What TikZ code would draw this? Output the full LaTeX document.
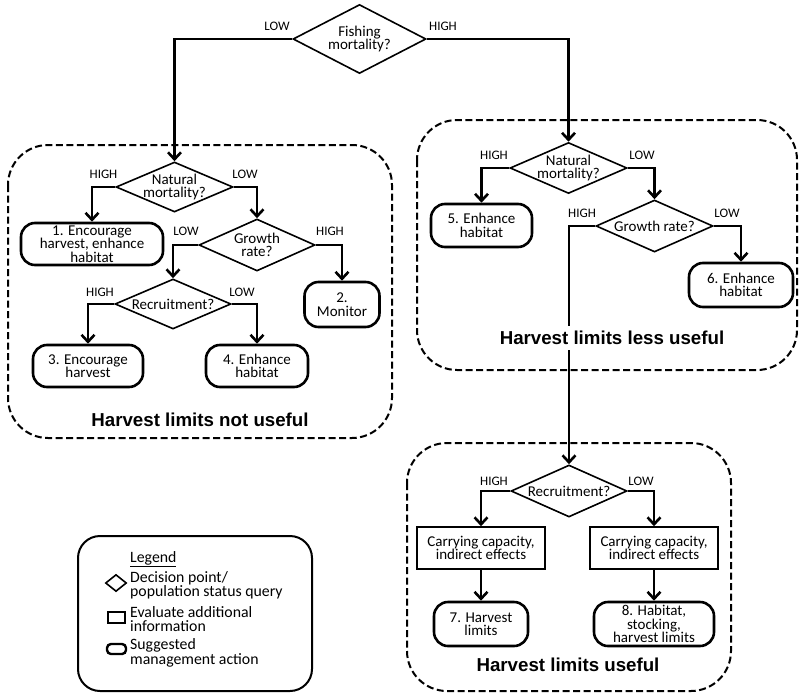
\documentclass[tikz,border=0pt]{standalone}
\usepackage{fontspec}
\setmainfont{Carlito}
\newfontfamily\headfont{Liberation Sans}
\usetikzlibrary{shapes.geometric,arrows.meta}

\tikzset{
  query/.style={diamond, draw, line width=1.6pt, inner sep=0pt},
  qtext/.style={inner sep=0pt, align=center, font=\fontsize{15}{13.5}\selectfont},
  action/.style={draw, line width=2.6pt, rounded corners=14pt, inner sep=0pt,
    align=center, font=\fontsize{15}{13.5}\selectfont},
  infobox/.style={draw, line width=1.6pt, inner sep=0pt, align=center,
    font=\fontsize{15}{13.5}\selectfont},
  flow/.style={line width=2.6pt, -{Straight Barb[length=7pt,width=13pt]}},
  branch/.style={inner sep=0pt, font=\fontsize{13}{14}\selectfont},
  zone/.style={draw, line width=2pt, dash pattern=on 7pt off 3.5pt, rounded corners=40pt},
  zonetitle/.style={fill=white, inner xsep=3pt, inner ysep=5pt,
    font=\headfont\bfseries\fontsize{18.7}{20}\selectfont},
  legendtext/.style={anchor=west, inner sep=0pt, align=left,
    font=\fontsize{15.8}{13.6}\selectfont}
}

\begin{document}
\begin{tikzpicture}[x=1pt,y=-1pt]
\useasboundingbox (0,0) rectangle (799,693);

% dashed zones
\draw[zone] (8,145) rectangle (392,438);
\draw[zone] (417,120) rectangle (797,370);
\draw[zone] (407,443) rectangle (731,691);

% decision points (outline, then its question)
\node[query, minimum width=133pt, minimum height=69pt] (fish) at (359.5,39) {};
\node[qtext] (fishq) at (fish) {Fishing\\mortality?};
\node[query, minimum width=117pt, minimum height=50pt] (nm1) at (174.5,187) {};
\node[qtext] (nm1q) at (nm1) {Natural\\mortality?};
\node[query, minimum width=116pt, minimum height=52pt] (gr1) at (257,245) {};
\node[qtext] (gr1q) at (gr1) {Growth\\rate?};
\node[query, minimum width=116pt, minimum height=50pt] (rc1) at (173,304) {};
\node[qtext] (rc1q) at (rc1) {Recruitment?};
\node[query, minimum width=117pt, minimum height=51pt] (nm2) at (568.5,168) {};
\node[qtext] (nm2q) at (nm2) {Natural\\mortality?};
\node[query, minimum width=117pt, minimum height=52pt] (gr2) at (654.5,226) {};
\node[qtext] (gr2q) at (gr2) {Growth rate?};
\node[query, minimum width=116pt, minimum height=52pt] (rc2) at (569,491) {};
\node[qtext] (rc2q) at (rc2) {Recruitment?};

% management actions
\node[action, minimum width=142pt, minimum height=42pt] (a1) at (92,244) {1. Encourage\\harvest, enhance\\habitat};
\node[action, minimum width=75pt, minimum height=45pt] (a2) at (342,304.5) {2.\\Monitor};
\node[action, minimum width=110pt, minimum height=42pt] (a3) at (88,366) {3. Encourage\\harvest};
\node[action, minimum width=102pt, minimum height=42pt] (a4) at (257,366) {4. Enhance\\habitat};
\node[action, minimum width=101pt, minimum height=43pt] (a5) at (481.5,225.5) {5. Enhance\\habitat};
\node[action, minimum width=104pt, minimum height=44pt] (a6) at (741,285) {6. Enhance\\habitat};
\node[action, minimum width=94pt, minimum height=44pt] (a7) at (481,624) {7. Harvest\\limits};
\node[action, minimum width=120pt, minimum height=44pt] (a8) at (654,624) {8. Habitat,\\stocking,\\harvest limits};

% additional information
\node[infobox, minimum width=128pt, minimum height=42pt] (ev1) at (481,548) {Carrying capacity,\\indirect effects};
\node[infobox, minimum width=128pt, minimum height=42pt] (ev2) at (654,548) {Carrying capacity,\\indirect effects};

% connectors
\draw[flow] (fish.west) -| (nm1.north);
\draw[flow] (fish.east) -| (nm2.north);
\draw[flow] (nm1.west) -| (a1.north);
\draw[flow] (nm1.east) -| (gr1.north);
\draw[flow] (gr1.west) -| (rc1.north);
\draw[flow] (gr1.east) -| (a2.north);
\draw[flow] (rc1.west) -| (a3.north);
\draw[flow] (rc1.east) -| (a4.north);
\draw[flow] (nm2.west) -| (a5.north);
\draw[flow] (nm2.east) -| (gr2.north);
\draw[flow] (gr2.west) -| (rc2.north);
\draw[flow] (gr2.east) -| (a6.north);
\draw[flow] (rc2.west) -| (ev1.north);
\draw[flow] (rc2.east) -| (ev2.north);
\draw[flow] (ev1.south) -- (a7.north);
\draw[flow] (ev2.south) -- (a8.north);

% branch labels
\node[branch] (l1) at (277,26) {LOW};
\node[branch] (l2) at (443,26) {HIGH};
\node[branch] (l3) at (103.5,174) {HIGH};
\node[branch] (l4) at (245,174) {LOW};
\node[branch] (l5) at (186,231) {LOW};
\node[branch] (l6) at (330,231) {HIGH};
\node[branch] (l7) at (100,292) {HIGH};
\node[branch] (l8) at (242,292) {LOW};
\node[branch] (l9) at (494,155) {HIGH};
\node[branch] (l10) at (642,155) {LOW};
\node[branch] (l11) at (582,213) {HIGH};
\node[branch] (l12) at (727,213) {LOW};
\node[branch] (l13) at (494,481) {HIGH};
\node[branch] (l14) at (641,481) {LOW};

% zone titles
\node[zonetitle] (t1) at (200,420) {Harvest limits not useful};
\node[zonetitle] (t2) at (612,338) {Harvest limits less useful};
\node[zonetitle] (t3) at (568,665) {Harvest limits useful};

% legend
\draw[line width=2pt, rounded corners=22pt] (78,536) rectangle (312,691);
\node[legendtext] (lg) at (130,559) {\underline{Legend}};
\node[query, minimum width=21pt, minimum height=17pt] (ik1) at (116,583) {};
\node[legendtext] (lt1) at (130,585) {Decision point/\\population status query};
\node[draw, line width=1.6pt, inner sep=0pt, minimum width=17pt, minimum height=11pt] (ik2) at (116.5,617.5) {};
\node[legendtext] (lt2) at (130,619) {Evaluate additional\\information};
\node[draw, line width=2.4pt, rounded corners=4pt, inner sep=0pt, minimum width=19pt, minimum height=10pt] (ik3) at (116.5,649) {};
\node[legendtext] (lt3) at (130,653) {Suggested\\management action};
\end{tikzpicture}
\end{document}
